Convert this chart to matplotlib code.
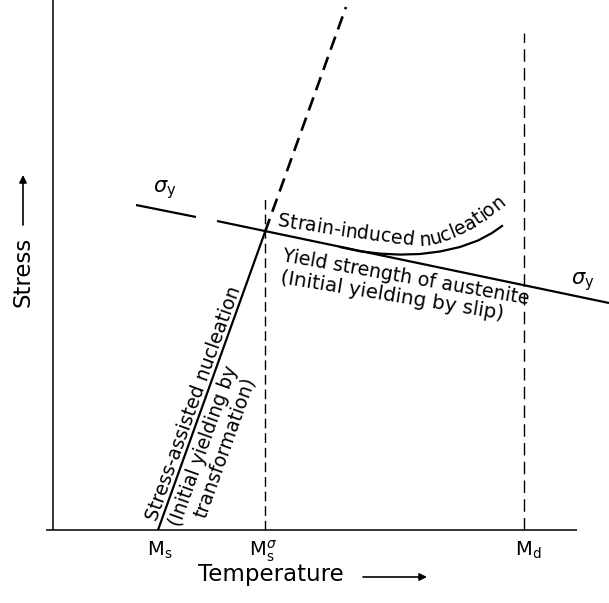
import numpy as np
import matplotlib
matplotlib.use("Agg")
import matplotlib.pyplot as plt
from matplotlib.font_manager import FontProperties, findfont
from matplotlib.ft2font import FT2Font

plt.rcParams['font.family'] = 'DejaVu Sans'
plt.rcParams['mathtext.fontset'] = 'dejavusans'
plt.rcParams['lines.scale_dashes'] = False

# Schematic temperature / stress units
T_MS = 105
T_MS_SIGMA = 212
T_MD = 471
AXIS_T = [-7, 524]
AXIS_S = [0, 530]

# yield strength of austenite (sigma_y), broken around the left label
SIGMA_Y_LEFT_T = [83, 143]
SIGMA_Y_LEFT_S = [325, 313]
SIGMA_Y_RIGHT_T = [164, 556]
SIGMA_Y_RIGHT_S = [309, 227]

# stress-assisted nucleation line and its dashed extrapolation
STRESS_ASSISTED_T = [105, 212]
STRESS_ASSISTED_S = [0, 298]
EXTRAP_T = [212, 293]
EXTRAP_S = [298, 523]

# vertical markers
MS_SIGMA_TOP = 333
MD_TOP = 497

# strain-induced nucleation curve
STRAIN_T = [287, 307, 327, 347, 367, 387, 407, 425, 439, 449]
STRAIN_S = [283, 278.7, 276.4, 275.4, 276, 278.5, 283, 289.5, 297, 304]

# baseline the curved label follows
NUC_BASE_T = [224, 287, 362, 377, 392, 407, 422, 437, 452, 467]
NUC_BASE_S = [304, 294, 284, 285, 289, 295, 303, 313, 325, 340]

TEMP_LABELS = ['M$_\\mathrm{s}$', 'M$_\\mathrm{s}^{\\sigma}$', 'M$_\\mathrm{d}$']
TEMP_LABEL_T = [107, 210, 475]

fig = plt.figure(figsize=(6.09, 6.03), dpi=100)
ax = fig.add_axes([53 / 609, 73 / 603, 556 / 609, 530 / 603])
ax.set_xlim(0, 556)
ax.set_ylim(0, 530)
ax.axis('off')

k = dict(color='black', clip_on=False, solid_capstyle='butt')

# axes
ax.plot([0, 0], AXIS_S, lw=1.1, **k)
ax.plot(AXIS_T, [0, 0], lw=1.1, **k)

# sigma_y
ax.plot(SIGMA_Y_LEFT_T, SIGMA_Y_LEFT_S, lw=1.6, **k)
ax.plot(SIGMA_Y_RIGHT_T, SIGMA_Y_RIGHT_S, lw=1.6, **k)

# stress-assisted + extrapolation
ax.plot(STRESS_ASSISTED_T, STRESS_ASSISTED_S, lw=1.6, **k)
ax.plot(EXTRAP_T, EXTRAP_S, lw=1.9, linestyle=(0, (10, 5.5)), color='black',
        clip_on=False, dash_capstyle='butt')

# Ms^sigma and Md
ax.plot([T_MS_SIGMA, T_MS_SIGMA], [0, MS_SIGMA_TOP], lw=1.0,
        linestyle=(0, (7, 3.5)), color='black', clip_on=False)
ax.plot([T_MD, T_MD], [0, MD_TOP], lw=1.0,
        linestyle=(0, (9, 4.5)), color='black', clip_on=False)

# strain-induced curve
ax.plot(STRAIN_T, STRAIN_S, lw=1.6, color='black', clip_on=False,
        solid_joinstyle='round')

FS = 13.6


def advances(s, size):
    font = FT2Font(findfont(FontProperties(family='DejaVu Sans')))
    font.set_size(size, fig.dpi)
    return np.array([font.load_char(ord(c)).linearHoriAdvance / 65536 for c in s])


def text_on_path(s, path_t, path_s, size, start=0.0):
    pts = ax.transData.transform(np.column_stack([path_t, path_s]))
    seg = np.diff(pts, axis=0)
    cum = np.concatenate([[0], np.cumsum(np.hypot(seg[:, 0], seg[:, 1]))])
    adv = advances(s, size)
    left = start + np.concatenate([[0], np.cumsum(adv)[:-1]])
    inv = ax.transData.inverted()
    for ch, l0, a in zip(s, left, adv):
        mid = l0 + a / 2
        x = np.interp(mid, cum, pts[:, 0])
        y = np.interp(mid, cum, pts[:, 1])
        i = int(np.clip(np.searchsorted(cum, mid) - 1, 0, len(seg) - 1))
        ang = np.degrees(np.arctan2(seg[i, 1], seg[i, 0]))
        xd, yd = inv.transform((x, y))
        ax.text(xd, yd, ch, fontsize=size, rotation=ang, rotation_mode='anchor',
                ha='center', va='baseline', clip_on=False)


def along(t0, s0, t1, s1, dist, off):
    u = np.array([t1 - t0, s1 - s0], dtype=float)
    u /= np.hypot(*u)
    n = np.array([-u[1], u[0]])
    return np.array([t0, s0]) + u * dist + n * off


text_on_path('Strain-induced nucleation', NUC_BASE_T, NUC_BASE_S, FS)

ax.text(229, 269, 'Yield strength of austenite', fontsize=FS, rotation=-10,
        rotation_mode='anchor', ha='left', va='baseline')
ax.text(227, 247, '(Initial yielding by slip)', fontsize=14.3, rotation=-9.3,
        rotation_mode='anchor', ha='left', va='baseline')

ang_sa = np.degrees(np.arctan2(STRESS_ASSISTED_S[1] - STRESS_ASSISTED_S[0],
                               STRESS_ASSISTED_T[1] - STRESS_ASSISTED_T[0]))
line = (STRESS_ASSISTED_T[0], STRESS_ASSISTED_S[0],
        STRESS_ASSISTED_T[1], STRESS_ASSISTED_S[1])
for txt, dist, off in [('Stress-assisted nucleation', 7, 4),
                       ('(Initial yielding by', 10, -20),
                       ('transformation)', 26, -41)]:
    p = along(*line, dist, off)
    ax.text(p[0], p[1], txt, fontsize=FS, rotation=ang_sa,
            rotation_mode='anchor', ha='left', va='baseline')

# sigma_y labels
ax.text(112, 340, r'$\sigma_\mathrm{y}$', fontsize=15, ha='center', va='center')
ax.text(530, 248, r'$\sigma_\mathrm{y}$', fontsize=15, ha='center', va='center')

# temperature markers
for lab, t in zip(TEMP_LABELS, TEMP_LABEL_T):
    ax.text(t, -26, lab, fontsize=14, ha='center', va='baseline', clip_on=False)

# axis titles with arrows
ax.text(145, -51, 'Temperature', fontsize=16.5, ha='left', va='baseline')
ax.annotate('', xy=(374, -47), xytext=(310, -47), annotation_clip=False,
            arrowprops=dict(arrowstyle='-|>', lw=1.2, color='black',
                            mutation_scale=11, shrinkA=0, shrinkB=0))
ax.text(-30, 258, 'Stress', fontsize=16.5, rotation=90, ha='center', va='center')
ax.annotate('', xy=(-30, 355), xytext=(-30, 305), annotation_clip=False,
            arrowprops=dict(arrowstyle='-|>', lw=1.2, color='black',
                            mutation_scale=11, shrinkA=0, shrinkB=0))

fig.savefig('out.png', dpi=100)
